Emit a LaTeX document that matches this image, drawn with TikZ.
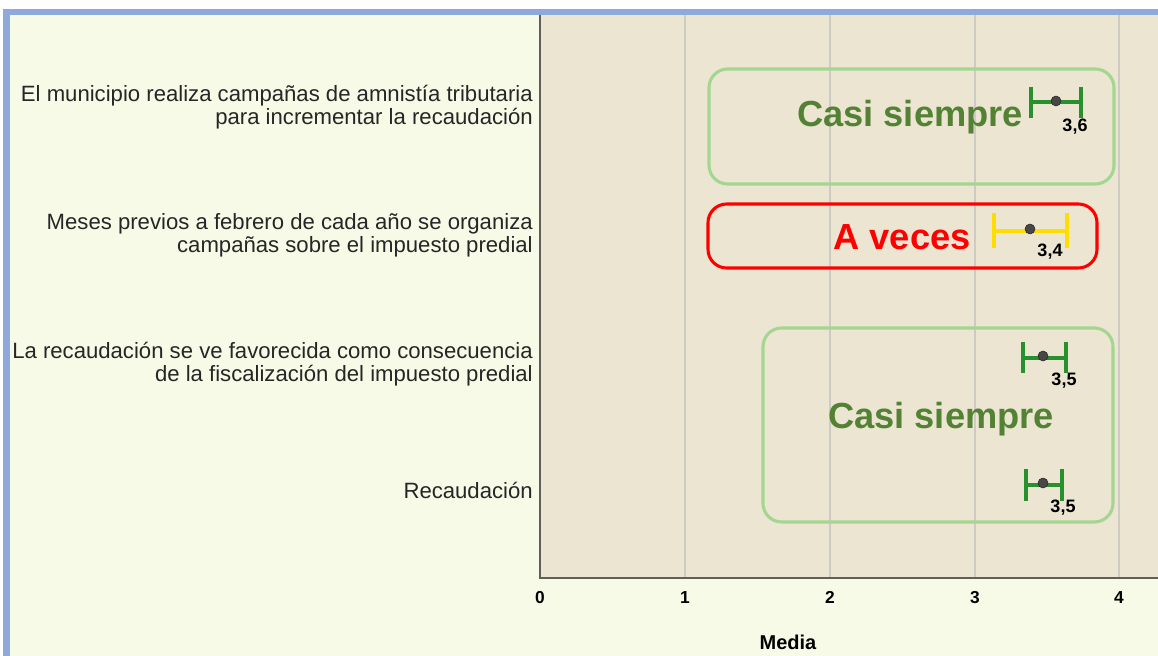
\documentclass[tikz,border=0pt]{standalone}
\usepackage{fontspec}
\setmainfont{Liberation Sans}
\usetikzlibrary{calc}
\definecolor{bordblue}{RGB}{141,170,219}
\definecolor{creamback}{RGB}{247,250,231}
\definecolor{plotback}{RGB}{236,229,210}
\definecolor{gridgray}{RGB}{205,203,196}
\definecolor{axisgray}{RGB}{95,95,90}
\definecolor{barGreen}{RGB}{40,145,45}
\definecolor{barYellow}{RGB}{255,221,0}
\definecolor{boxGreen}{RGB}{165,214,145}
\definecolor{txtGreen}{RGB}{84,130,53}
\definecolor{boxRed}{RGB}{255,0,0}
\tikzset{
  itemlabel/.style={anchor=east,align=right,inner sep=0pt,text=black!85,font=\fontsize{16.6}{17.4}\selectfont},
  ticklabel/.style={anchor=base,inner sep=0pt,font=\bfseries\fontsize{13}{13}\selectfont},
  meanlabel/.style={anchor=base,inner sep=0pt,font=\bfseries\fontsize{13.5}{13.5}\selectfont},
  meandot/.style={circle,fill=black!72,draw=black!85,inner sep=0pt,minimum size=7.5pt},
  barline/.style={line width=3pt},
  levelbox/.style={line width=2.3pt,rounded corners=14pt},
  leveltext/.style={anchor=base,inner sep=0pt,font=\bfseries\fontsize{27.2}{28}\selectfont}
}
\begin{document}
\begin{tikzpicture}[x=0.75pt,y=0.75pt,yscale=-1,xscale=1]
\useasboundingbox (0,0) rectangle (1158,656);

% frame and backgrounds
\fill[white] (0,0) rectangle (1158,656);
\fill[bordblue] (3,9) rectangle (1158,656);
\fill[creamback] (10,15) rectangle (1158,656);
\fill[plotback] (540,15) rectangle (1158,578);

% grid lines
\foreach \gx in {685,830,975,1119}
  \draw[gridgray,line width=1.4pt] (\gx,15) -- (\gx,577);

% axes
\draw[axisgray,line width=1.1pt] (540,15) -- (540,578) -- (1158,578);

% tick labels
\foreach \tv/\gx in {0/540,1/685,2/830,3/975,4/1119}
  \node[ticklabel] (tick\tv) at (\gx,603) {\tv};
\node[anchor=base,inner sep=0pt,font=\bfseries\fontsize{15}{15}\selectfont] (axtitle) at (788,649) {Media};

% item labels
\node[itemlabel] (itemA) at (533,107) {El municipio realiza campañas de amnistía tributaria\\para incrementar la recaudación};
\node[itemlabel] (itemB) at (533,235) {Meses previos a febrero de cada año se organiza\\campañas sobre el impuesto predial};
\node[itemlabel] (itemC) at (533,364) {La recaudación se ve favorecida como consecuencia\\de la fiscalización del impuesto predial};
\node[itemlabel] (itemD) at (533,490) {Recaudación};

% level boxes
\draw[levelbox,boxGreen] (709,69) rectangle (1114,184);
\draw[levelbox,boxRed] (708,204) rectangle (1097,268);
\draw[levelbox,boxGreen] (763,328) rectangle (1113,522);
\node[leveltext,text=txtGreen] (levelA) at (910,127) {Casi siempre};
\node[leveltext,text=boxRed] (levelB) at (902,250) {A veces};
\node[leveltext,text=txtGreen] (levelC) at (941,428) {Casi siempre};

% error bars
\draw[barline,barGreen] (1031,102) -- (1081,102);
\draw[barline,barGreen] (1031,87) -- (1031,118);
\draw[barline,barGreen] (1081,87) -- (1081,118);
\node[meandot] (meanA) at (1056,101) {};
\node[meanlabel] (valA) at (1075,132) {3,6};

\draw[barline,barYellow] (994,231) -- (1067,231);
\draw[barline,barYellow] (994,213) -- (994,248);
\draw[barline,barYellow] (1067,213) -- (1067,248);
\node[meandot] (meanB) at (1030,229) {};
\node[meanlabel] (valB) at (1050,257) {3,4};

\draw[barline,barGreen] (1023,358) -- (1066,358);
\draw[barline,barGreen] (1023,342) -- (1023,373);
\draw[barline,barGreen] (1066,342) -- (1066,373);
\node[meandot] (meanC) at (1043,356) {};
\node[meanlabel] (valC) at (1064,385) {3,5};

\draw[barline,barGreen] (1026,485) -- (1062,485);
\draw[barline,barGreen] (1026,469) -- (1026,501);
\draw[barline,barGreen] (1062,469) -- (1062,501);
\node[meandot] (meanD) at (1043,483) {};
\node[meanlabel] (valD) at (1063,512) {3,5};

\end{tikzpicture}
\end{document}
